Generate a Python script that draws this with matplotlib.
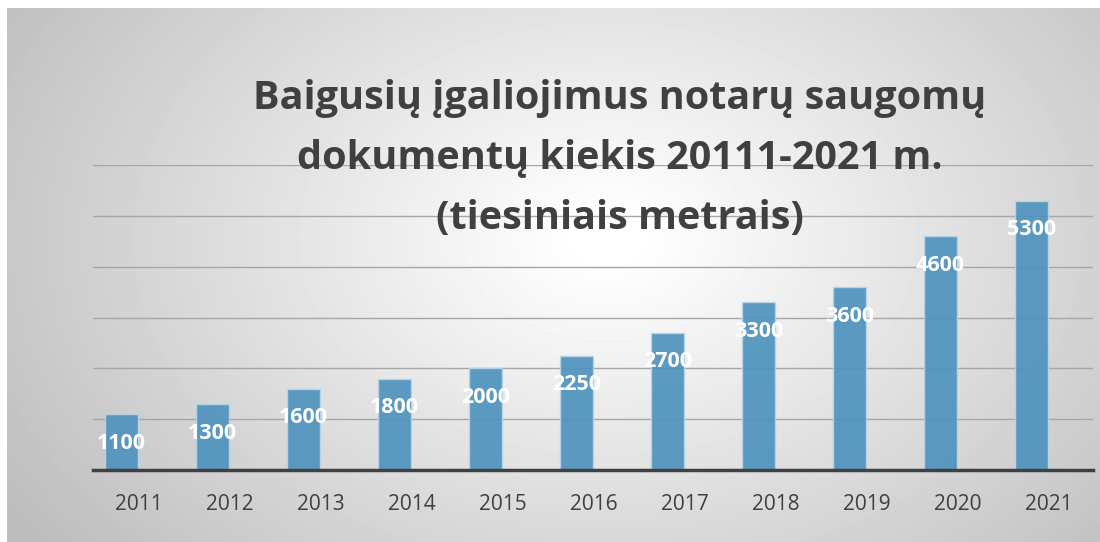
import matplotlib.pyplot as plt
import matplotlib.transforms as mtransforms
import numpy as np

# duomenys
metai = ['2011', '2012', '2013', '2014', '2015', '2016', '2017', '2018', '2019', '2020', '2021']
kiekis = [1100, 1300, 1600, 1800, 2000, 2250, 2700, 3300, 3600, 4600, 5300]
pavadinimas = ['Baigusių įgaliojimus notarų saugomų',
               'dokumentų kiekis 20111-2021 m.',
               '(tiesiniais metrais)']

plt.rcParams['font.family'] = ['Open Sans', 'DejaVu Sans']

W, H = 1100, 542
fig = plt.figure(figsize=(W / 100, H / 100), dpi=100)

# fonas su radialiniu gradientu
bg = fig.add_axes([7 / W, 0, (W - 7) / W, (H - 8) / H])
yy, xx = np.mgrid[0:H - 8, 0:W - 7]
d = np.sqrt(((xx - 600) / 600) ** 2 + ((yy - 230) / 420) ** 2)
vals = np.clip(258 - 58 * d, 190, 255) / 255
bg.imshow(vals, cmap='gray', vmin=0, vmax=1, aspect='auto', interpolation='bilinear')
bg.axis('off')

ax = fig.add_axes([93 / W, (H - 470) / H, 1000 / W, 305 / H])
ax.set_facecolor('none')
x = np.arange(len(metai))
bars = ax.bar(x, kiekis, width=0.363, color='#4F93BD', alpha=0.92,
              edgecolor='#B9D6E8', linewidth=1, zorder=3)

for xi, v in zip(x, kiekis):
    ax.annotate(str(v), (xi, v), xytext=(0, -21), textcoords='offset points',
                ha='center', va='center', color='white', fontsize=15.5,
                fontweight='bold', zorder=4)

ax.set_xlim(-0.313, 10.676)
ax.set_ylim(0, 6000)
ax.set_yticks(np.arange(1000, 6001, 1000))
ax.yaxis.grid(True, color='#A6A6A6', linewidth=1, zorder=0)
ax.set_yticklabels([])
ax.tick_params(axis='y', length=0)
ax.set_xticks(x)
ax.set_xticklabels(metai, fontsize=15, color='#404040')
ax.tick_params(axis='x', length=0, pad=17.5)
# metų užrašai pasislinkę į dešinę kaip originale
poslinkis = mtransforms.ScaledTranslation(17 / 100, 0, fig.dpi_scale_trans)
for lbl in ax.get_xticklabels():
    lbl.set_transform(lbl.get_transform() + poslinkis)
for s in ['top', 'right', 'left']:
    ax.spines[s].set_visible(False)
ax.spines['bottom'].set_color('#404040')
ax.spines['bottom'].set_linewidth(2.5)
ax.spines['bottom'].set_zorder(5)

for eil, yb in zip(pavadinimas, [109, 169, 229]):
    fig.text(620 / W, 1 - yb / H, eil, ha='center', va='baseline',
             fontsize=28.5, fontweight='bold', color='#404040')

fig.savefig('out.png', dpi=100)
